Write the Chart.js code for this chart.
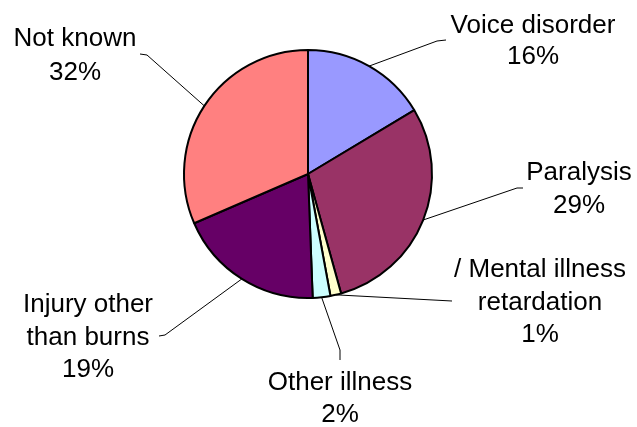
<!DOCTYPE html>
<html>
<head>
<meta charset="utf-8">
<script src="https://cdn.jsdelivr.net/npm/chart.js@4/dist/chart.umd.min.js"></script>
<style>
  html, body { margin: 0; padding: 0; background: #fff; }
  #wrap { width: 637px; height: 427px; }
</style>
</head>
<body>
<div id="wrap"><canvas id="pieChart" width="637" height="427"></canvas></div>
<script>
// Slice data, clockwise from 12 o'clock
const categories = ['Voice disorder', 'Paralysis', 'Mental illness / retardation', 'Other illness', 'Injury other than burns', 'Not known'];
const shares = [16.4, 29.3, 1.4, 2.3, 19.1, 31.5];
const labelLines = [
  ['Voice disorder'],
  ['Paralysis'],
  ['/ Mental illness', 'retardation'],
  ['Other illness'],
  ['Injury other', 'than burns'],
  ['Not known']
];
const sliceColors = ['#9999FF', '#993366', '#FFFFCC', '#CCFFFF', '#660066', '#FF8080'];

// where each label sits and how its leader line bends
const labelLayout = [
  { x: 533, y: 33, gap: 31, path: [[437, 41], [446, 40]] },
  { x: 579, y: 180, gap: 33, path: [[517, 188], [523, 188]] },
  { x: 540, y: 277, gap: 32.5, path: [[452, 301]] },
  { x: 340, y: 390, gap: 31.7, path: [[340, 350], [340, 360]] },
  { x: 88, y: 312, gap: 32.5, path: [[165, 335], [159, 336]] },
  { x: 75, y: 46, gap: 34, path: [[147, 55], [140, 54]] }
];

const total = shares.reduce((a, b) => a + b, 0);

// draws leader lines and the outside labels
const outsideLabels = {
  id: 'outsideLabels',
  afterDraw(chart) {
    const ctx = chart.ctx;
    const arcs = chart.getDatasetMeta(0).data;
    ctx.save();
    arcs.forEach((arc, i) => {
      const mid = (arc.startAngle + arc.endAngle) / 2;
      const sx = arc.x + Math.cos(mid) * arc.outerRadius;
      const sy = arc.y + Math.sin(mid) * arc.outerRadius;
      const lay = labelLayout[i];

      ctx.strokeStyle = '#000';
      ctx.lineWidth = 1;
      ctx.beginPath();
      ctx.moveTo(sx, sy);
      lay.path.forEach(p => ctx.lineTo(p[0], p[1]));
      ctx.stroke();

      const lines = labelLines[i].concat([Math.round(shares[i] / total * 100) + '%']);
      ctx.fillStyle = '#000';
      ctx.font = '26px "Liberation Sans", Arial, sans-serif';
      ctx.textAlign = 'center';
      ctx.textBaseline = 'alphabetic';
      lines.forEach((t, k) => ctx.fillText(t, lay.x, lay.y + k * lay.gap));
    });
    ctx.restore();
  }
};

new Chart(document.getElementById('pieChart').getContext('2d'), {
  type: 'pie',
  data: {
    labels: categories,
    datasets: [{
      data: shares,
      backgroundColor: sliceColors,
      borderColor: '#000',
      borderWidth: 2
    }]
  },
  options: {
    responsive: false,
    animation: false,
    layout: { padding: { top: 49, bottom: 128, left: 183, right: 204 } },
    plugins: {
      legend: { display: false },
      tooltip: { enabled: false }
    }
  },
  plugins: [outsideLabels]
});
</script>
</body>
</html>
